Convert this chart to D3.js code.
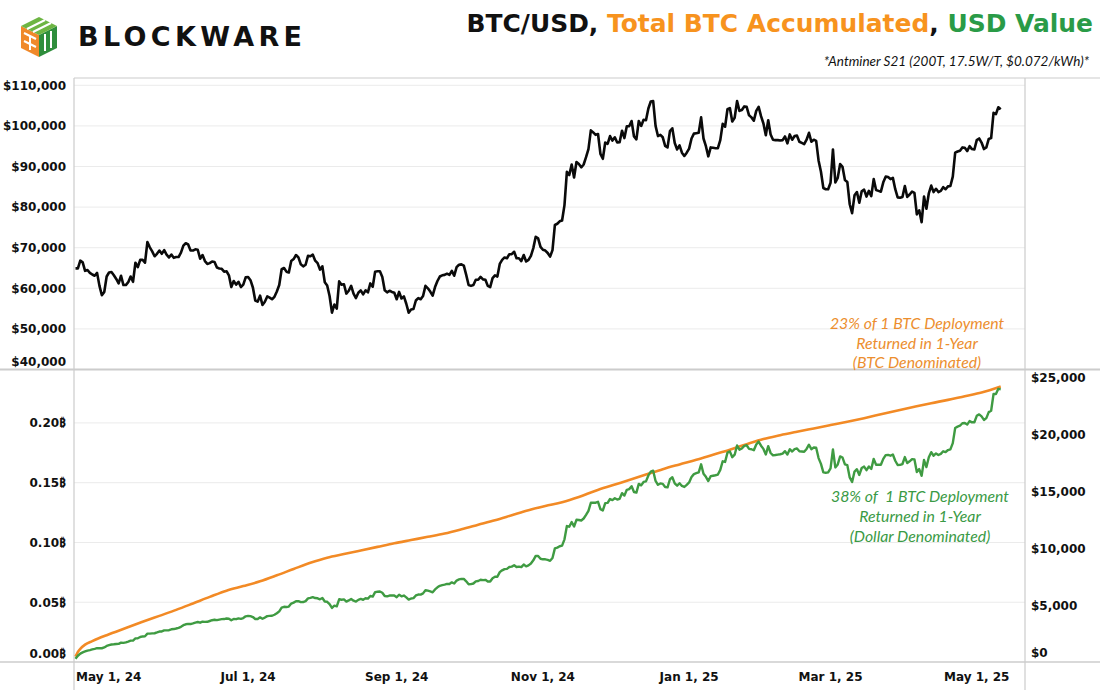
<!DOCTYPE html>
<html>
<head>
<meta charset="utf-8">
<script src="https://cdn.jsdelivr.net/npm/d3@7"></script>
<style>
  body { margin: 0; background: #fff; }
  svg { display: block; }
</style>
</head>
<body>
<div class="area"></div>
<script>
const width = 1100
const height = 690
const left = 74
const right = 1025
const topY = 78
const midY = 369.5
const bottomY = 662

const orange = "#F28A25"
const green = "#3F9B42"
const axisFont = "DejaVu Sans, Noto Sans, sans-serif"

// daily BTC close (thousand $) starting 2024-04-20
const firstDay = "2024-04-20"
const btcPriceK = [
  64.9, 64.9, 66.8, 66.4, 64.3, 64.5, 63.8, 63.4, 63.1, 63.8, 60.6,
  58.3, 59.1, 62.9, 63.9, 64.0, 63.2, 62.3, 61.2, 63.1, 60.8, 60.8, 61.5, 62.9, 61.6, 66.3, 65.2, 67.0, 67.0, 66.3, 71.4, 70.1, 69.1, 67.9, 68.5, 69.3, 68.5, 69.4, 68.3, 67.6, 68.3, 67.5,
  67.7, 67.7, 68.8, 70.5, 71.1, 70.8, 69.3, 69.3, 69.6, 69.5, 67.3, 68.2, 66.7, 66.0, 66.2, 66.6, 66.5, 65.1, 64.9, 64.8, 64.1, 64.2, 63.2, 60.3, 61.8, 60.9, 61.6, 60.3, 60.9, 62.7,
  62.8, 62.0, 60.2, 57.0, 56.7, 58.2, 55.9, 56.7, 58.0, 57.7, 57.3, 57.9, 59.2, 60.8, 64.7, 65.0, 64.1, 63.9, 66.7, 67.2, 68.2, 67.6, 65.9, 65.4, 65.8, 68.0, 67.9, 68.3, 66.8, 66.2, 64.6,
  65.4, 61.5, 60.7, 58.1, 54.0, 56.0, 55.0, 61.7, 60.9, 61.0, 58.7, 59.4, 60.6, 58.7, 57.6, 58.9, 59.5, 58.5, 59.5, 59.0, 61.2, 60.4, 64.1, 64.2, 64.2, 62.8, 59.5, 59.0, 59.4, 59.1, 58.9,
  57.3, 59.1, 57.5, 58.0, 56.2, 54.0, 54.8, 54.9, 57.0, 57.6, 57.3, 58.1, 60.6, 60.0, 59.2, 58.2, 60.3, 61.8, 62.9, 63.2, 63.3, 63.6, 63.3, 64.3, 63.1, 65.2, 65.8, 65.9, 65.6, 63.3,
  60.8, 60.6, 60.8, 62.1, 62.1, 62.8, 62.2, 62.1, 60.6, 60.3, 62.5, 63.2, 62.9, 66.0, 67.0, 67.6, 67.4, 68.4, 68.4, 69.0, 67.4, 67.4, 66.7, 68.2, 66.6, 67.0, 68.0, 69.9, 72.7, 72.3, 70.2,
  69.5, 69.3, 68.7, 67.8, 69.4, 75.6, 75.9, 76.5, 76.7, 80.5, 88.7, 87.9, 90.5, 87.3, 91.1, 90.6, 89.8, 90.5, 92.3, 94.3, 98.9, 98.4, 97.8, 98.0, 93.1, 91.9, 95.9, 95.6, 97.5, 96.4,
  97.2, 95.9, 96.0, 98.8, 97.0, 99.9, 99.9, 101.2, 97.4, 96.7, 101.2, 100.0, 101.5, 101.4, 104.3, 106.0, 106.1, 100.0, 97.5, 97.8, 97.2, 95.1, 94.7, 98.7, 99.4, 95.8, 94.2, 95.2, 93.4, 92.6, 93.4,
  94.4, 96.9, 98.1, 98.2, 98.3, 102.1, 96.9, 95.0, 92.5, 94.7, 94.6, 94.5, 94.5, 96.5, 100.5, 99.8, 104.1, 104.4, 101.1, 102.0, 106.1, 103.7, 103.9, 104.8, 104.7, 102.6, 102.1, 101.3, 103.7, 104.7, 102.4,
  100.6, 97.7, 101.4, 97.9, 96.6, 96.5, 96.5, 96.4, 96.5, 97.4, 95.7, 97.9, 96.6, 97.5, 97.6, 96.1, 95.8, 95.5, 96.6, 98.3, 96.1, 96.6, 96.3, 91.5, 88.7, 84.7, 84.4, 84.4,
  86.0, 94.2, 86.1, 87.2, 90.6, 89.9, 86.7, 86.2, 80.7, 78.5, 82.9, 83.7, 81.1, 83.9, 84.3, 82.6, 84.0, 82.7, 86.9, 84.2, 84.0, 83.8, 86.1, 87.5, 87.4, 86.9, 87.2, 84.4, 82.4, 82.3, 82.5,
  85.2, 82.5, 83.1, 83.8, 83.5, 78.2, 79.2, 76.3, 82.6, 79.6, 83.4, 85.3, 83.7, 84.5, 83.7, 84.0, 84.9, 84.4, 85.1, 85.2, 87.5, 93.4, 93.7, 93.9, 94.7, 94.6, 93.8, 95.0, 94.3, 94.2,
  96.5, 96.9, 95.9, 94.3, 94.7, 96.8, 97.0, 103.2, 102.9, 104.6, 104.1
]

// daily USD value of the BTC mined so far (thousand $), same days
const usdValueK = [
  0.29, 0.55, 0.74, 0.85, 0.93, 1.00, 1.05, 1.11, 1.16, 1.22, 1.21,
  1.21, 1.28, 1.41, 1.48, 1.54, 1.56, 1.59, 1.60, 1.70, 1.68, 1.73, 1.80, 1.88, 1.89, 2.08, 2.09, 2.20, 2.25, 2.27, 2.50, 2.50, 2.52, 2.53, 2.60, 2.68, 2.69, 2.78, 2.78, 2.80, 2.88, 2.90,
  2.95, 3.01, 3.10, 3.24, 3.32, 3.36, 3.34, 3.40, 3.47, 3.52, 3.46, 3.55, 3.53, 3.54, 3.61, 3.68, 3.72, 3.69, 3.73, 3.77, 3.78, 3.83, 3.81, 3.67, 3.79, 3.77, 3.84, 3.80, 3.87, 4.02,
  4.06, 4.04, 3.96, 3.79, 3.79, 3.93, 3.81, 3.91, 4.04, 4.06, 4.07, 4.16, 4.29, 4.46, 4.79, 4.86, 4.84, 4.88, 5.14, 5.23, 5.35, 5.36, 5.27, 5.28, 5.36, 5.60, 5.64, 5.71, 5.63, 5.61, 5.52,
  5.63, 5.33, 5.30, 5.10, 4.76, 4.96, 4.90, 5.52, 5.48, 5.51, 5.32, 5.42, 5.55, 5.40, 5.32, 5.47, 5.55, 5.48, 5.61, 5.58, 5.81, 5.76, 6.15, 6.18, 6.21, 6.10, 5.81, 5.78, 5.85, 5.85, 5.85,
  5.71, 5.92, 5.78, 5.85, 5.69, 5.49, 5.59, 5.62, 5.86, 5.94, 5.93, 6.04, 6.32, 6.28, 6.22, 6.14, 6.39, 6.57, 6.71, 6.77, 6.81, 6.87, 6.87, 7.01, 6.91, 7.17, 7.27, 7.32, 7.31, 7.10,
  6.85, 6.86, 6.91, 7.10, 7.13, 7.24, 7.21, 7.23, 7.09, 7.09, 7.38, 7.50, 7.50, 7.91, 8.07, 8.18, 8.20, 8.36, 8.40, 8.52, 8.36, 8.40, 8.35, 8.58, 8.42, 8.51, 8.67, 8.95, 9.34, 9.33, 9.09,
  9.04, 9.04, 8.99, 8.91, 9.15, 10.00, 10.07, 10.19, 10.25, 10.80, 11.97, 11.91, 12.32, 11.93, 12.52, 12.50, 12.46, 12.63, 12.95, 13.30, 14.02, 14.02, 14.02, 14.10, 13.46, 13.34, 13.99, 14.01, 14.35, 14.25,
  14.42, 14.30, 14.37, 14.86, 14.65, 15.16, 15.22, 15.47, 14.96, 14.91, 15.68, 15.55, 15.85, 15.90, 16.42, 16.76, 16.84, 15.94, 15.60, 15.72, 15.68, 15.40, 15.38, 16.09, 16.26, 15.73, 15.52, 15.74, 15.50, 15.41, 15.60,
  15.81, 16.29, 16.54, 16.62, 16.69, 17.40, 16.57, 16.30, 15.93, 16.36, 16.40, 16.44, 16.50, 16.91, 17.67, 17.61, 18.43, 18.54, 18.03, 18.25, 19.06, 18.69, 18.80, 19.03, 19.08, 18.76, 18.73, 18.64, 19.15, 19.40, 19.04,
  18.76, 18.27, 19.00, 18.40, 18.19, 18.22, 18.26, 18.29, 18.35, 18.56, 18.27, 18.73, 18.53, 18.74, 18.80, 18.55, 18.53, 18.51, 18.76, 19.13, 18.74, 18.88, 18.86, 17.95, 17.44, 16.69, 16.66, 16.69,
  17.05, 18.71, 17.13, 17.39, 18.10, 18.00, 17.39, 17.33, 16.25, 15.85, 16.77, 16.97, 16.47, 17.08, 17.20, 16.89, 17.21, 16.99, 17.88, 17.37, 17.36, 17.36, 17.88, 18.21, 18.23, 18.16, 18.27, 17.72, 17.34, 17.35, 17.43,
  18.04, 17.51, 17.67, 17.86, 17.83, 16.73, 16.98, 16.39, 17.78, 17.16, 18.02, 18.47, 18.16, 18.36, 18.22, 18.32, 18.55, 18.48, 18.66, 18.72, 19.27, 20.60, 20.72, 20.80, 21.02, 21.04, 20.90, 21.21, 21.10, 21.11,
  21.67, 21.80, 21.62, 21.31, 21.47, 22.00, 22.12, 23.59, 23.59, 24.05, 24.00
]

// BTC accumulated, read about weekly (days after firstDay)
const minedDay = [0, 1, 2, 4, 7, 14, 21, 28, 35, 42, 49, 56, 63, 70, 77, 84, 91, 98, 105, 112, 119, 126, 133, 140, 147, 154, 161, 168, 175, 182, 189, 196, 203, 210, 217, 224, 231, 238, 245, 252, 259, 266, 273, 280, 287, 294, 301, 308, 315, 322, 329, 336, 343, 350, 357, 364, 371, 378, 386]
const minedBtc = [0.0045, 0.0085, 0.0110, 0.0145, 0.0175, 0.0232, 0.0285, 0.0336, 0.0386, 0.0436, 0.0490, 0.0545, 0.0597, 0.0635, 0.0675, 0.0725, 0.0778, 0.0830, 0.0873, 0.0903, 0.0933, 0.0963, 0.0993, 0.1020, 0.1047, 0.1075, 0.1110, 0.1148, 0.1186, 0.1228, 0.1270, 0.1305, 0.1336, 0.1380, 0.1433, 0.1478, 0.1523, 0.1568, 0.1613, 0.1653, 0.1692, 0.1734, 0.1776, 0.1822, 0.1865, 0.1897, 0.1926, 0.1954, 0.1982, 0.2010, 0.2040, 0.2072, 0.2104, 0.2135, 0.2165, 0.2193, 0.2224, 0.2254, 0.2305]

const priceTicks = [40000, 50000, 60000, 70000, 80000, 90000, 100000, 110000]
const btcTicks = [0, 0.05, 0.10, 0.15, 0.20]
const usdTicks = [0, 5000, 10000, 15000, 20000, 25000]
const dateTicks = ["2024-05-01", "2024-07-01", "2024-09-01", "2024-11-01", "2025-01-01", "2025-03-01", "2025-05-01"]

const parseDay = d3.timeParse("%Y-%m-%d")
const day0 = parseDay(firstDay)
const dayAt = i => d3.timeDay.offset(day0, i)

const svg = d3.select(".area")
  .append("svg")
  .attr("width", width)
  .attr("height", height)
  .attr("viewBox", [0, 0, width, height])

var x = d3.scaleTime()
  .domain([new Date(2024, 3, 19, 9), new Date(2025, 4, 21, 3)])
  .range([left, right])

var yPrice = d3.scaleLinear().domain([40000, 111800]).range([midY, topY])
var yBtc = d3.scaleLinear().domain([0, 0.2447]).range([bottomY, midY])
var yUsd = d3.scaleLinear().domain([0, 25750]).range([bottomY, midY])

const gridLayer = svg.append("g")
const frameLayer = svg.append("g")
const lineLayer = svg.append("g")
const textLayer = svg.append("g")

// gridlines
gridLayer.selectAll(".gp")
  .data(priceTicks.slice(1))
  .enter().append("line")
  .attr("x1", left).attr("x2", right)
  .attr("y1", d => yPrice(d)).attr("y2", d => yPrice(d))
  .attr("stroke", "#ebebeb").attr("stroke-width", 1)

gridLayer.selectAll(".gb")
  .data(btcTicks.slice(1))
  .enter().append("line")
  .attr("x1", left).attr("x2", right)
  .attr("y1", d => yBtc(d)).attr("y2", d => yBtc(d))
  .attr("stroke", "#ebebeb").attr("stroke-width", 1)

// frame
const frameColor = "#cccccc"
frameLayer.append("line").attr("x1", left).attr("x2", width).attr("y1", topY).attr("y2", topY)
  .attr("stroke", frameColor).attr("stroke-width", 1.2)
frameLayer.append("line").attr("x1", 0).attr("x2", width).attr("y1", midY).attr("y2", midY)
  .attr("stroke", frameColor).attr("stroke-width", 2)
frameLayer.append("line").attr("x1", 0).attr("x2", width).attr("y1", bottomY).attr("y2", bottomY)
  .attr("stroke", frameColor).attr("stroke-width", 1.5)
frameLayer.append("line").attr("x1", left).attr("x2", left).attr("y1", topY).attr("y2", height)
  .attr("stroke", frameColor).attr("stroke-width", 1.2)
frameLayer.append("line").attr("x1", right).attr("x2", right).attr("y1", topY).attr("y2", height)
  .attr("stroke", frameColor).attr("stroke-width", 1.2)

// lines
const priceLine = d3.line()
  .x((d, i) => x(dayAt(i)))
  .y(d => yPrice(d * 1000))

const usdLine = d3.line()
  .x((d, i) => x(dayAt(i)))
  .y(d => yUsd(d * 1000))

const minedLine = d3.line()
  .x((d, i) => x(dayAt(minedDay[i])))
  .y(d => yBtc(d))
  .curve(d3.curveMonotoneX)

lineLayer.append("path")
  .datum(btcPriceK)
  .attr("fill", "none")
  .attr("stroke", "#0a0a0a")
  .attr("stroke-width", 2.6)
  .attr("stroke-linejoin", "round")
  .attr("d", priceLine)

lineLayer.append("path")
  .datum(minedBtc)
  .attr("fill", "none")
  .attr("stroke", orange)
  .attr("stroke-width", 2.6)
  .attr("d", minedLine)

lineLayer.append("path")
  .datum(usdValueK)
  .attr("fill", "none")
  .attr("stroke", green)
  .attr("stroke-width", 2.4)
  .attr("stroke-linejoin", "round")
  .attr("d", usdLine)

// axis labels
const money = d3.format("$,.0f")

textLayer.selectAll(".lp")
  .data(priceTicks)
  .enter().append("text")
  .attr("x", 66)
  .attr("y", (d, i) => (i === 0 ? yPrice(d) - 8 : yPrice(d)) + 4.3)
  .attr("text-anchor", "end")
  .attr("font-family", axisFont).attr("font-weight", "bold").attr("font-size", 12)
  .attr("fill", "#111")
  .text(d => money(d))

textLayer.selectAll(".lb")
  .data(btcTicks)
  .enter().append("text")
  .attr("x", 66)
  .attr("y", (d, i) => (i === 0 ? yBtc(d) - 8 : yBtc(d)) + 4.3)
  .attr("text-anchor", "end")
  .attr("font-family", axisFont).attr("font-weight", "bold").attr("font-size", 12)
  .attr("fill", "#111")
  .text(d => d3.format(".2f")(d) + "\u20BF")

textLayer.selectAll(".lu")
  .data(usdTicks)
  .enter().append("text")
  .attr("x", 1031)
  .attr("y", (d, i) => (i === 0 ? yUsd(d) - 9 : yUsd(d)) + 4.3)
  .attr("font-family", axisFont).attr("font-weight", "bold").attr("font-size", 12)
  .attr("fill", "#111")
  .text(d => money(d))

const dateFmt = d3.timeFormat("%b %-d, %y")
const dateLabels = textLayer.selectAll(".lx")
  .data(dateTicks.map(parseDay))
  .enter().append("text")
  .attr("x", d => x(d))
  .attr("y", 680.5)
  .attr("text-anchor", "middle")
  .attr("font-family", axisFont).attr("font-weight", "bold").attr("font-size", 12)
  .attr("fill", "#111")
  .text(d => dateFmt(d))

// keep the first label inside the plot
dateLabels.each(function() {
  const b = this.getBBox()
  if (b.x < left + 2) d3.select(this).attr("x", +d3.select(this).attr("x") + (left + 2 - b.x))
})

// annotations
function note(lines, cx, baselines, color) {
  lines.forEach((t, i) => {
    textLayer.append("text")
      .attr("x", cx).attr("y", baselines[i])
      .attr("text-anchor", "middle")
      .attr("font-family", "Lato, Open Sans, sans-serif")
      .attr("font-style", "italic")
      .attr("font-size", 15.8)
      .attr("fill", color)
      .style("white-space", "pre")
      .text(t)
  })
}
note(["23% of 1 BTC Deployment", "Returned in 1-Year", "(BTC Denominated)"], 917, [328.5, 349, 368], "#EC8E2E")
note(["38% of  1 BTC Deployment", "Returned in 1-Year", "(Dollar Denominated)"], 920, [502, 522, 542], "#3A9A45")

// title
const title = textLayer.append("text")
  .attr("x", 1093).attr("y", 32)
  .attr("text-anchor", "end")
  .attr("font-family", axisFont).attr("font-weight", "bold").attr("font-size", 24)
title.append("tspan").attr("fill", "#111").text("BTC/USD, ")
title.append("tspan").attr("fill", "#F7931E").text("Total BTC Accumulated")
title.append("tspan").attr("fill", "#111").text(", ")
title.append("tspan").attr("fill", "#2A9B47").text("USD Value")
const tl = title.node().getComputedTextLength()
title.attr("font-size", 24 * 627 / tl)

textLayer.append("text")
  .attr("x", 1089).attr("y", 66)
  .attr("text-anchor", "end")
  .attr("font-family", "Lato, Open Sans, sans-serif")
  .attr("font-style", "italic")
  .attr("font-size", 13.5)
  .attr("fill", "#111")
  .text("*Antminer S21 (200T, 17.5W/T, $0.072/kWh)*")

// logo
const logo = svg.append("g")
logo.append("path").attr("d", "M21,26 L39,35 L39,57 L21,48 Z").attr("fill", "#F0892A")
logo.append("path").attr("d", "M39,35 L57,26 L57,48 L39,57 Z").attr("fill", "#2F8E3C")
logo.append("path").attr("d", "M21,26 L39,17 L57,26 L39,35 Z").attr("fill", "#6DB543")
const cut = [
  "M24,33 L36,39", "M24,41 L36,47", "M30,36 L30,50",
  "M45,34 L45,51", "M51,31 L51,48",
  "M27,29 L45,20", "M33,32 L51,23"
]
logo.selectAll(".cut").data(cut).enter().append("path")
  .attr("d", d => d).attr("stroke", "#fff").attr("stroke-width", 2).attr("fill", "none")

textLayer.append("text")
  .attr("x", 78).attr("y", 45.5)
  .attr("font-family", axisFont).attr("font-weight", "bold").attr("font-size", 27)
  .attr("fill", "#111")
  .attr("textLength", 224).attr("lengthAdjust", "spacing")
  .text("BLOCKWARE")
</script>
</body>
</html>
